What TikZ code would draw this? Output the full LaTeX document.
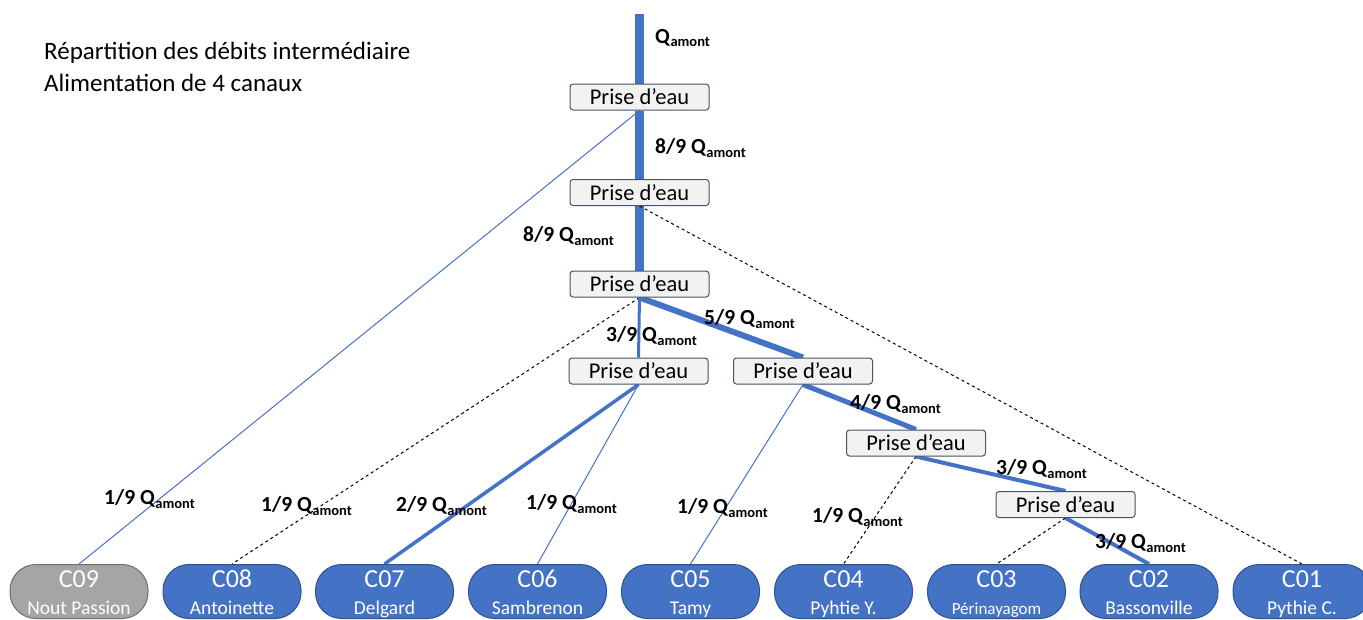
\documentclass[tikz,border=0pt]{standalone}
\usepackage{fontspec}
\setmainfont{Carlito}
\usetikzlibrary{backgrounds}
\definecolor{cblue}{HTML}{4472C4}
\definecolor{cborder}{HTML}{2F528F}
\definecolor{cgray}{HTML}{A5A5A5}
\definecolor{cgrayb}{HTML}{6F6F6F}
\definecolor{pfill}{HTML}{F2F2F2}
\definecolor{pborder}{HTML}{44546A}
\newcommand{\qam}[1]{\textbf{#1}\raisebox{-0.35ex}{\fontsize{14.5}{14.5}\selectfont\bfseries amont}}
\tikzset{
  prise/.style={draw=pborder, fill=pfill, rounded corners=3, minimum width=139, minimum height=26, inner sep=0, line width=1, font=\fontsize{22.5}{22.5}\selectfont},
  canal/.style={draw=cborder, fill=cblue, rounded corners=26, minimum width=138, minimum height=54, inner sep=0, line width=1, text=white, align=center, anchor=north, font=\fontsize{19.5}{27}\selectfont},
  canalgray/.style={canal, draw=cgrayb, fill=cgray},
  lab/.style={font=\fontsize{21.5}{21.5}\selectfont, anchor=west, inner sep=0},
  trunk/.style={draw=cblue, line width=9},
  thinline/.style={draw=cblue, line width=1},
  dashline/.style={draw=black, line width=1, dashed},
}
\newcommand{\ct}[2]{{\fontsize{26}{27}\selectfont #1\vphantom{Ég}}\\#2\vphantom{Ég}}
\begin{document}
\begin{tikzpicture}[x=1pt,y=-1pt]
\useasboundingbox (0,0) rectangle (1363,619);
\node[anchor=north west, align=left, inner sep=0, font=\fontsize{25}{32}\selectfont] (title) at (44,42) {Répartition des débits intermédiaire\\Alimentation de 4 canaux};
\coordinate (top) at (639.5,14);
\node[prise] (p1) at (639.5,97) {Prise d’eau};
\node[prise] (p2) at (639.5,192.5) {Prise d’eau};
\node[prise] (p3) at (639.5,284) {Prise d’eau};
\node[prise] (p4) at (638.5,371) {Prise d’eau};
\node[prise] (p5) at (803,371) {Prise d’eau};
\node[prise] (p6) at (916,443) {Prise d’eau};
\node[prise] (p7) at (1065.5,504.5) {Prise d’eau};
\node[canalgray] (c09) at (79,564) {\ct{C09}{Nout Passion}};
\node[canal] (c08) at (232,564) {\ct{C08}{Antoinette}};
\node[canal] (c07) at (384.5,564) {\ct{C07}{Delgard}};
\node[canal] (c06) at (537.5,564) {\ct{C06}{Sambrenon}};
\node[canal] (c05) at (690.5,564) {\ct{C05}{Tamy}};
\node[canal] (c04) at (843.5,564) {\ct{C04}{Pyhtie Y.}};
\node[canal] (c03) at (996.5,564) {\ct{C03}{\fontsize{17}{27}\selectfont Périnayagom}};
\node[canal] (c02) at (1149,564) {\ct{C02}{Bassonville}};
\node[canal] (c01) at (1302,564) {\ct{C01}{Pythie C.}};
\begin{scope}[on background layer]
\draw[trunk] (top) -- (p1.north);
\draw[trunk] (p1.south) -- (p2.north);
\draw[trunk] (p2.south) -- (p3.north);
\draw[thinline] (p1.south) -- (c09.north);
\draw[dashline] (p2.south) -- (c01.north);
\draw[dashline] (p3.south) -- (c08.north);
\draw[draw=cblue, line width=3] (p3.south) -- (p4.north);
\draw[draw=cblue, line width=6] (p3.south) -- (p5.north);
\draw[draw=cblue, line width=3.5] (p4.south) -- (c07.north);
\draw[thinline] (p4.south) -- (c06.north);
\draw[thinline] (p5.south) -- (c05.north);
\draw[draw=cblue, line width=5] (p5.south) -- (p6.north);
\draw[dashline] (p6.south) -- (c04.north);
\draw[draw=cblue, line width=4] (p6.south) -- (p7.north);
\draw[dashline] (p7.south) -- (c03.north);
\draw[draw=cblue, line width=4] (p7.south) -- (c02.north);
\end{scope}
\node[lab] (l0) at (655,38) {\qam{Q}};
\node[lab] (l1) at (655,148) {\qam{8/9 Q}};
\node[lab] (l2) at (523,236) {\qam{8/9 Q}};
\node[lab] (l3) at (606,336) {\qam{3/9 Q}};
\node[lab] (l4) at (704,319) {\qam{5/9 Q}};
\node[lab] (l5) at (850,404) {\qam{4/9 Q}};
\node[lab] (l6) at (996,469) {\qam{3/9 Q}};
\node[lab] (l7) at (1095,543) {\qam{3/9 Q}};
\node[lab] (l8) at (104,499) {\qam{1/9 Q}};
\node[lab] (l9) at (261,506) {\qam{1/9 Q}};
\node[lab] (l10) at (396,506) {\qam{2/9 Q}};
\node[lab] (l11) at (526,504) {\qam{1/9 Q}};
\node[lab] (l12) at (677,508) {\qam{1/9 Q}};
\node[lab] (l13) at (812,517) {\qam{1/9 Q}};
\end{tikzpicture}
\end{document}
